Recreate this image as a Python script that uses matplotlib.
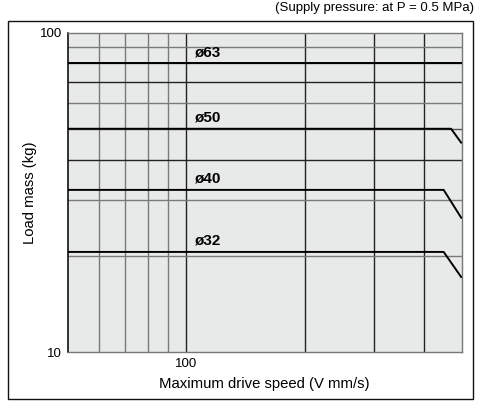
import matplotlib
matplotlib.use("Agg")
import matplotlib.pyplot as plt
from matplotlib.patches import Rectangle
from matplotlib.ticker import FixedLocator, NullFormatter, FixedFormatter

plt.rcParams['font.family'] = ['Liberation Sans', 'DejaVu Sans']

# ---- data ----
bores = ["ø32", "ø40", "ø50", "ø63"]
speed_32 = [50, 450, 500]
mass_32 = [20.6, 20.6, 17.1]
speed_40 = [50, 450, 500]
mass_40 = [32.2, 32.2, 26.2]
speed_50 = [50, 470, 500]
mass_50 = [50, 50, 45]
speed_63 = [50, 500]
mass_63 = [80, 80]
label_speed = 105

x_grid_light = [60, 70, 80, 90]
x_grid_dark = [100, 200, 300, 400]
y_grid_light = [20, 30, 60, 90]
y_grid_dark = [40, 70]
y_grid_hidden = [50, 80]

x_ticks = [100]
x_tick_labels = ["100"]
y_ticks = [10, 100]
y_tick_labels = ["10", "100"]

title = "(Supply pressure: at P = 0.5 MPa)"
xlabel = "Maximum drive speed (V mm/s)"
ylabel = "Load mass (kg)"

W, H = 484, 401
fig = plt.figure(figsize=(W / 100, H / 100), dpi=100)
fig.patch.set_facecolor("white")

# outer frame
fig.patches.append(Rectangle((8 / W, 1 - 399 / H), (473 - 8) / W, (399 - 21) / H,
                             transform=fig.transFigure, fill=False,
                             edgecolor="#111111", linewidth=1.0))

ax = fig.add_axes([67.7 / W, 1 - 352.3 / H, (461.7 - 67.7) / W, (352.3 - 32.5) / H])
ax.set_facecolor("#e8e9e9")
ax.set_xscale("log")
ax.set_yscale("log")
ax.set_xlim(50, 500)
ax.set_ylim(10, 100)

for v in x_grid_light:
    ax.axvline(v, color="#7a7a7a", lw=1.0, zorder=1)
for v in x_grid_dark:
    ax.axvline(v, color="#222222", lw=1.0, zorder=1)
for v in y_grid_light:
    ax.axhline(v, color="#7a7a7a", lw=1.0, zorder=1)
for v in y_grid_dark:
    ax.axhline(v, color="#222222", lw=1.0, zorder=1)
for v in y_grid_hidden:
    ax.axhline(v, color="#555555", lw=1.0, zorder=1)

series = [(speed_32, mass_32), (speed_40, mass_40), (speed_50, mass_50), (speed_63, mass_63)]
for name, (sx, sy) in zip(bores, series):
    ax.plot(sx, sy, color="black", lw=1.4, zorder=3, solid_capstyle="butt")
    ax.annotate(name, xy=(label_speed, sy[0]), xytext=(0, 3.0), textcoords="offset points",
                fontsize=11, fontweight="bold", ha="left", va="bottom", zorder=4)

ax.xaxis.set_major_locator(FixedLocator(x_ticks))
ax.xaxis.set_major_formatter(FixedFormatter(x_tick_labels))
ax.xaxis.set_minor_locator(FixedLocator([]))
ax.xaxis.set_minor_formatter(NullFormatter())
ax.yaxis.set_major_locator(FixedLocator(y_ticks))
ax.yaxis.set_major_formatter(FixedFormatter(y_tick_labels))
ax.yaxis.set_minor_locator(FixedLocator([]))
ax.yaxis.set_minor_formatter(NullFormatter())
ax.tick_params(axis="both", length=0, labelsize=9.5, pad=4)

for side in ["top", "right", "bottom"]:
    ax.spines[side].set_color("#777777")
    ax.spines[side].set_linewidth(1.0)
ax.spines["left"].set_color("#111111")
ax.spines["left"].set_linewidth(1.2)

ax.set_xlabel(xlabel, fontsize=10.7, labelpad=5)
ax.set_ylabel(ylabel, fontsize=10.7, labelpad=2)

fig.text(474 / W, 1 - 8.5 / H, title, ha="right", va="center", fontsize=9.5)

fig.savefig("out.png", dpi=100)
